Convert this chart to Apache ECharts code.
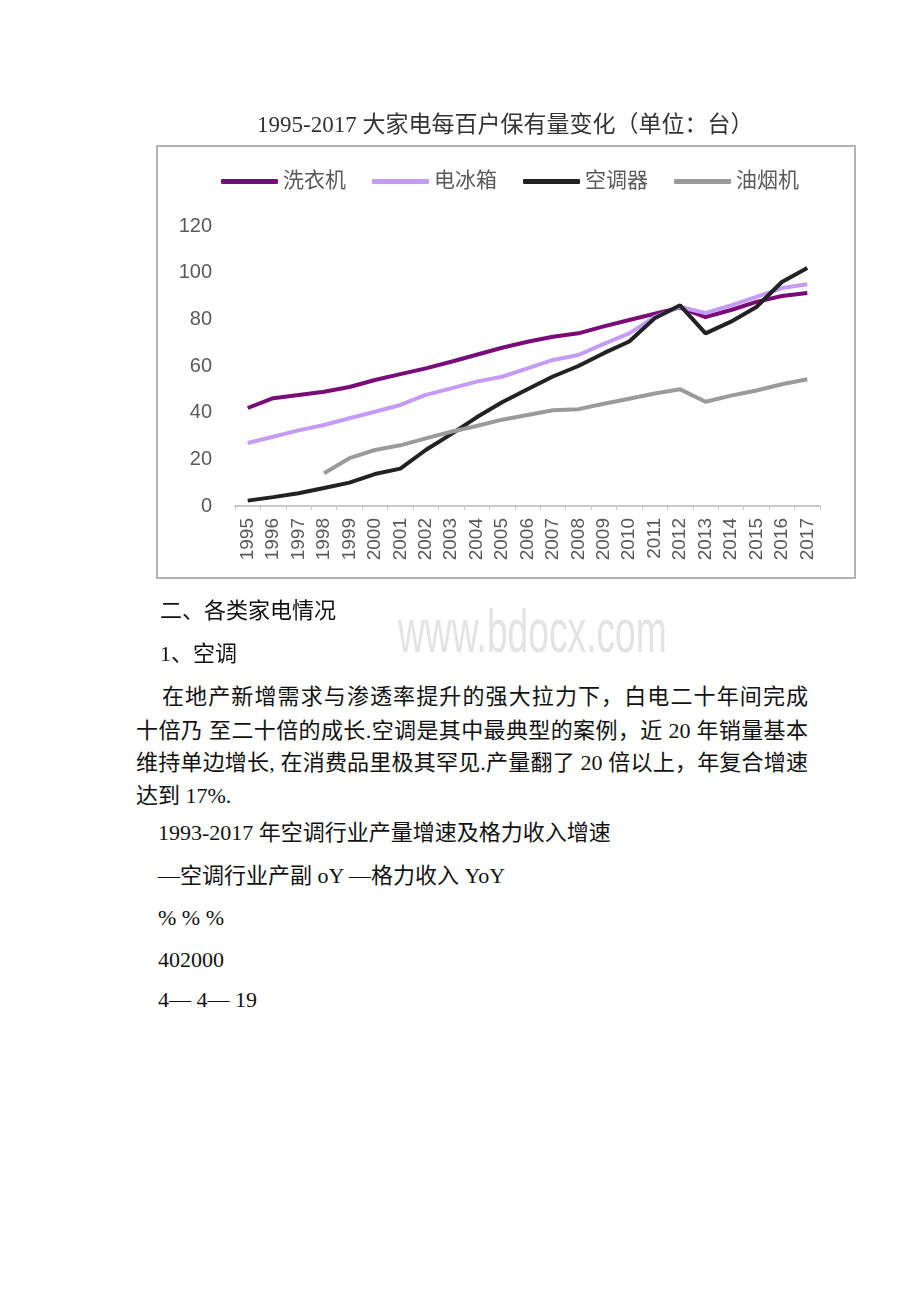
<!DOCTYPE html>
<html><head><meta charset="utf-8">
<script src="https://cdn.jsdelivr.net/npm/echarts@6/dist/echarts.min.js"></script>
<style>
html,body{margin:0;padding:0;background:#fff;}
body{width:920px;height:1302px;position:relative;overflow:hidden;font-family:"Liberation Serif","Noto Sans CJK SC",serif;color:#111;}
#chart{position:absolute;left:0;top:0;width:920px;height:600px;}
.t{position:absolute;font-size:22px;line-height:30px;white-space:nowrap;}
.j{text-align:justify;text-align-last:justify;white-space:normal;}
#wm{position:absolute;left:398px;top:596px;font-family:"Liberation Sans",sans-serif;font-size:62px;line-height:70px;color:#e3e3e3;transform:scaleX(0.6);transform-origin:0 0;white-space:nowrap;}
</style></head><body>
<div id="chart"></div>
<div id="wm">www.bdocx.com</div>
<div class="t" style="left:160px;top:596px;">二、各类家电情况</div>
<div class="t" style="left:160px;top:639px;">1、空调</div>
<div class="t j" style="left:162px;top:682px;width:646px;">在地产新增需求与渗透率提升的强大拉力下，白电二十年间完成</div>
<div class="t j" style="left:136px;top:716px;width:672px;">十倍乃 至二十倍的成长.空调是其中最典型的案例，近 20 年销量基本</div>
<div class="t j" style="left:136px;top:748px;width:672px;">维持单边增长, 在消费品里极其罕见.产量翻了 20 倍以上，年复合增速</div>
<div class="t" style="left:136px;top:781px;">达到 17%.</div>
<div class="t" style="left:158px;top:818px;">1993-2017 年空调行业产量增速及格力收入增速</div>
<div class="t" style="left:158px;top:861px;">—空调行业产副 oY —格力收入 YoY</div>
<div class="t" style="left:158px;top:903px;">% % %</div>
<div class="t" style="left:158px;top:945px;">402000</div>
<div class="t" style="left:158px;top:985px;">4— 4— 19</div>
<script>
var years = ['1995','1996','1997','1998','1999','2000','2001','2002','2003','2004','2005','2006','2007','2008','2009','2010','2011','2012','2013','2014','2015','2016','2017'];
var washer = [42,46.2,47.6,49,51,54,56.5,59,61.8,64.8,67.8,70.4,72.5,74,77,79.7,82.4,85,81,84,87.5,90,91.3];
var fridge = [27,29.7,32.4,34.7,37.6,40.4,43.3,47.6,50.4,53.3,55.4,59,62.6,64.7,69.5,74,81,85.3,82.7,86,89.6,93.4,95];
var aircon = [2.3,3.8,5.5,7.7,10,13.7,16,24,30.8,38,44.5,50,55.5,60,65.5,70.5,80.5,86,74,79,85.3,96,102];
var hood = [null,null,null,14,20.5,24,26,29,31.8,34.3,37,39,41,41.5,43.8,46,48.2,50,44.7,47.3,49.5,52.2,54.3];
var seriesNames = ['洗衣机','电冰箱','空调器','油烟机'];
var yTicks = {min:0, max:120, interval:20};

var chart = echarts.init(document.getElementById('chart'), null, {renderer:'canvas'});
var font = '"Liberation Sans","Noto Sans CJK SC",sans-serif';
function ln(name, data, color){
  return {name:name, type:'line', data:data, showSymbol:false, symbol:'none', connectNulls:false,
    lineStyle:{width:4, color:color}, itemStyle:{color:color}, z:2};
}
chart.setOption({
  animation:false,
  title:{text:'1995-2017 大家电每百户保有量变化（单位：台）', left:252, top:109,
    textStyle:{fontSize:23, fontWeight:'normal', color:'#333', fontFamily:'"Liberation Serif","Noto Sans CJK SC",serif'}},
  graphic:[{type:'rect', shape:{x:157, y:146, width:698, height:432}, style:{fill:'none', stroke:'#b3b3b3', lineWidth:2}, z:-1}],
  legend:{left:216, top:166, itemWidth:57, itemHeight:5, itemGap:26, icon:'roundRect',
    textStyle:{fontSize:21, color:'#595959', fontFamily:font}, data:seriesNames},
  grid:{left:235, right:100, top:226, bottom:94, containLabel:false},
  xAxis:{type:'category', data:years, boundaryGap:true,
    axisLine:{lineStyle:{color:'#c8c8c8', width:2}},
    axisTick:{show:true, length:4, interval:0, lineStyle:{color:'#c8c8c8'}},
    axisLabel:{rotate:90, interval:0, fontSize:19, color:'#595959', fontFamily:font, margin:12}},
  yAxis:{type:'value', min:yTicks.min, max:yTicks.max, interval:yTicks.interval,
    axisLine:{show:false}, axisTick:{show:false}, splitLine:{show:false},
    axisLabel:{fontSize:20, color:'#595959', fontFamily:font, margin:23}},
  series:[
    ln(seriesNames[0], washer, '#7a0b78'),
    ln(seriesNames[1], fridge, '#c49cf7'),
    ln(seriesNames[2], aircon, '#222222'),
    ln(seriesNames[3], hood, '#9a9a9a')
  ]
});
</script>
</body></html>
